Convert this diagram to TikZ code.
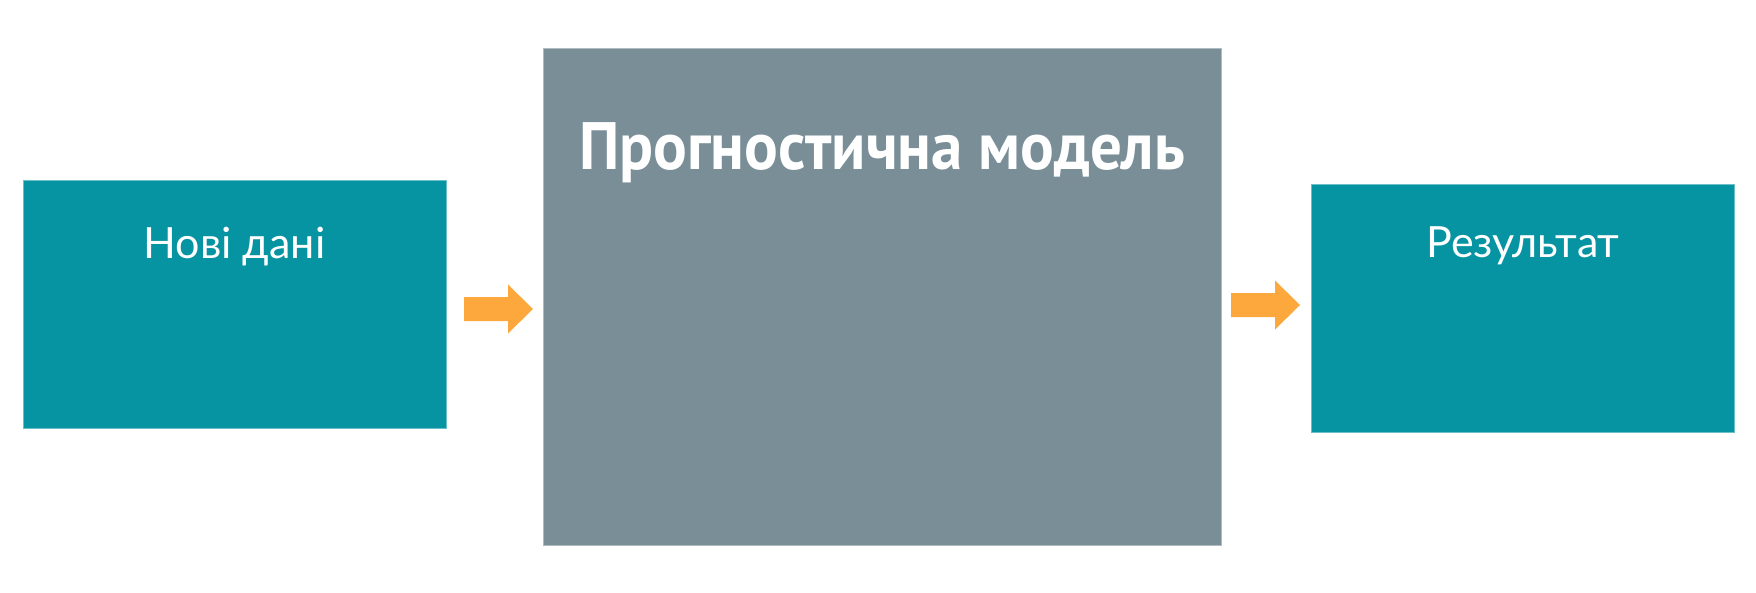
\documentclass[tikz,border=0pt]{standalone}
\usepackage{fontspec}
\usepackage{xcolor}
\usepackage{tikz}
\setmainfont{Lato}
\newfontfamily\titlefont{PT Sans}

\definecolor{dataTeal}{RGB}{6,148,163}
\definecolor{modelGray}{RGB}{122,142,152}
\definecolor{flowOrange}{RGB}{252,168,60}

\begin{document}
\begin{tikzpicture}[x=1pt, y=-1pt,
    tealbox/.style={fill=dataTeal, draw=dataTeal!60!white, line width=1pt,
        minimum width=423pt, minimum height=248pt, inner sep=0pt},
    graybox/.style={fill=modelGray, draw=modelGray!60!white, line width=1pt,
        minimum width=678pt, minimum height=497pt, inner sep=0pt},
    flow/.style={fill=flowOrange},
    boxtext/.style={text=white, anchor=base, inner sep=0pt,
        font=\fontsize{43}{48}\selectfont},
    titletext/.style={text=white, anchor=base, inner sep=0pt,
        font=\titlefont\bfseries\fontsize{67}{72}\selectfont}
  ]
    \useasboundingbox (0,0) rectangle (1756,592);
    \fill[white] (0,0) rectangle (1756,592);

    % Boxes
    \node[tealbox] (newdata) at (234.5,304.5) {};
    \node[graybox] (model) at (882,296.5) {};
    \node[tealbox] (result) at (1523,308.5) {};

    % Labels
    \node[boxtext] (newdatalbl) at (234.5,258) {Нові дані};
    \node[titletext] (modellbl) at (882,169) {\scalebox{0.94}[1]{Прогностична модель}};
    \node[boxtext] (resultlbl) at (1523,257) {Результат};

    % Flow arrows
    \coordinate (toModel) at (464,309);
    \coordinate (toResult) at (1231,305);
    \foreach \a in {toModel,toResult}
        \fill[flow] (\a) ++(0,-12) -- ++(44,0) -- ++(0,-12.5) -- ++(25,24.5)
            -- ++(-25,24.5) -- ++(0,-12.5) -- ++(-44,0) -- cycle;
\end{tikzpicture}
\end{document}
